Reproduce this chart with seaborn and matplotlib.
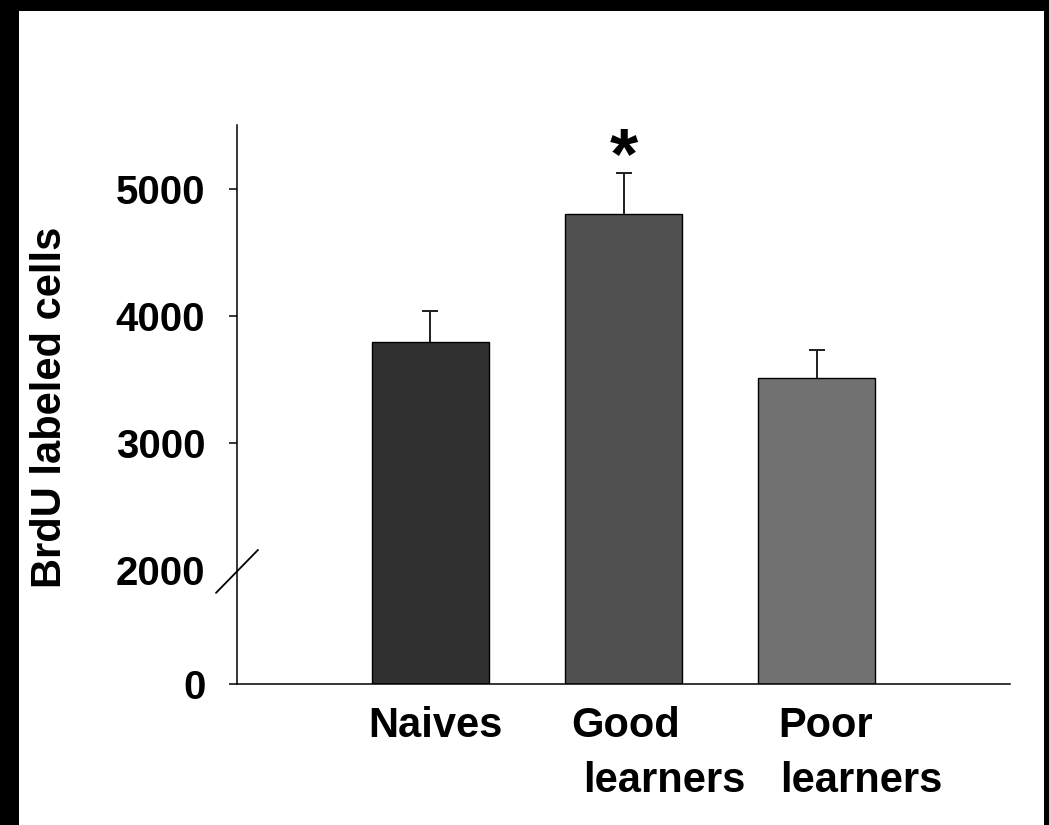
import numpy as np
import pandas as pd
import matplotlib
matplotlib.use("Agg")
import matplotlib.pyplot as plt
import matplotlib.transforms as mtransforms
from matplotlib.patches import Rectangle
from matplotlib.lines import Line2D
import seaborn as sns

# Data
groups = ["Naives", "Good learners", "Poor learners"]
group_labels = [["Naives"], ["Good", "learners"], ["Poor", "learners"]]
mean_cells = [3790, 4800, 3510]
sem_cells = [250, 325, 220]
bar_colors = ["#303030", "#505050", "#717171"]
y_ticks = [0, 2000, 3000, 4000, 5000]
significance = ["", "*", ""]

sns.set_theme(style="white")
plt.rcParams["font.family"] = ["Liberation Sans", "DejaVu Sans"]
plt.rcParams["font.weight"] = "bold"

W, H = 1049, 825
fig = plt.figure(figsize=(W / 100, H / 100), dpi=100)
fig.patch.set_facecolor("white")

# scanner edge around the page
for (x0, y0, w, h) in [(0, 0, 19, H), (0, H - 11, W, 11), (1044, 0, 5, H)]:
    fig.patches.append(Rectangle((x0 / W, y0 / H), w / W, h / H,
                                 transform=fig.transFigure, facecolor="black",
                                 edgecolor="none", zorder=0))

ax = fig.add_axes([237 / W, 141 / H, 773 / W, 559 / H])
ax.set_facecolor("none")

df = pd.DataFrame({"group": groups, "cells": mean_cells})
sns.barplot(data=df, x="group", y="cells", hue="group", palette=bar_colors,
            width=0.605, edgecolor="black", linewidth=1.0, legend=False,
            errorbar=None, ax=ax, saturation=1)

# upward-only SEM bars
_, caps, _ = ax.errorbar(np.arange(len(groups)), mean_cells,
                         yerr=[np.zeros(len(groups)), sem_cells], fmt="none",
                         ecolor="#1e1e1e", elinewidth=1.4, capsize=5.5,
                         capthick=1.4, zorder=1)
caps[0].set_visible(False)

# compressed segment below the axis break
BREAK = 2000
SQUEEZE = 114 / 254


def fwd(v):
    v = np.asarray(v, dtype=float)
    return np.where(v >= BREAK, v, BREAK - (BREAK - v) * SQUEEZE)


def inv(u):
    u = np.asarray(u, dtype=float)
    return np.where(u >= BREAK, u, BREAK - (BREAK - u) / SQUEEZE)


ax.set_yscale("function", functions=(fwd, inv))
ax.set_ylim(0, 5500)
ax.set_xlim(-1, 3)

ax.set_yticks(y_ticks)
ax.set_yticklabels([str(t) for t in y_ticks])
ax.tick_params(axis="y", which="major", direction="out", length=5.8,
               width=1.1, color="black", pad=17, labelsize=29,
               left=True, labelcolor="black")
ax.yaxis.set_minor_locator(matplotlib.ticker.NullLocator())
for lab in ax.get_yticklabels():
    lab.set_fontweight("bold")
ax.yaxis.get_major_ticks()[1].tick1line.set_visible(False)

ax.set_xticks([])
ax.set_xlabel("")
ax.set_ylabel("")

for side in ["top", "right"]:
    ax.spines[side].set_visible(False)
for side in ["left", "bottom"]:
    ax.spines[side].set_color("black")
    ax.spines[side].set_linewidth(1.1)

# category labels, one text per line
label_offsets = [[-0.322], [-0.27, -0.21], [-0.197, -0.187]]
line_base = [(684 - 737) / 559, (684 - 792) / 559]
tr = mtransforms.blended_transform_factory(ax.transData, ax.transAxes)
for i, lines in enumerate(group_labels):
    for j, txt in enumerate(lines):
        ax.text(i + label_offsets[i][j], line_base[j], txt, transform=tr,
                ha="left", va="baseline", fontsize=30, fontweight="bold",
                color="black", clip_on=False)

# significance marker
for i, mark in enumerate(significance):
    if mark:
        ax.text(i, mean_cells[i] + sem_cells[i] + 105, mark, ha="center",
                va="center", fontsize=52, fontweight="bold", color="black")

fig.text(50 / W, 1 - 407 / H, "BrdU labeled cells", rotation=90,
         ha="center", va="center", fontsize=30, fontweight="bold",
         color="black")

# axis break slash
fig.canvas.draw()
bx, by = ax.transData.transform((-1, BREAK))
slash = Line2D([bx - 21, bx + 21], [by - 23, by + 20], transform=None,
               color="black", linewidth=1.3, clip_on=False)
fig.add_artist(slash)

fig.savefig("out.png", dpi=100, facecolor="white")
